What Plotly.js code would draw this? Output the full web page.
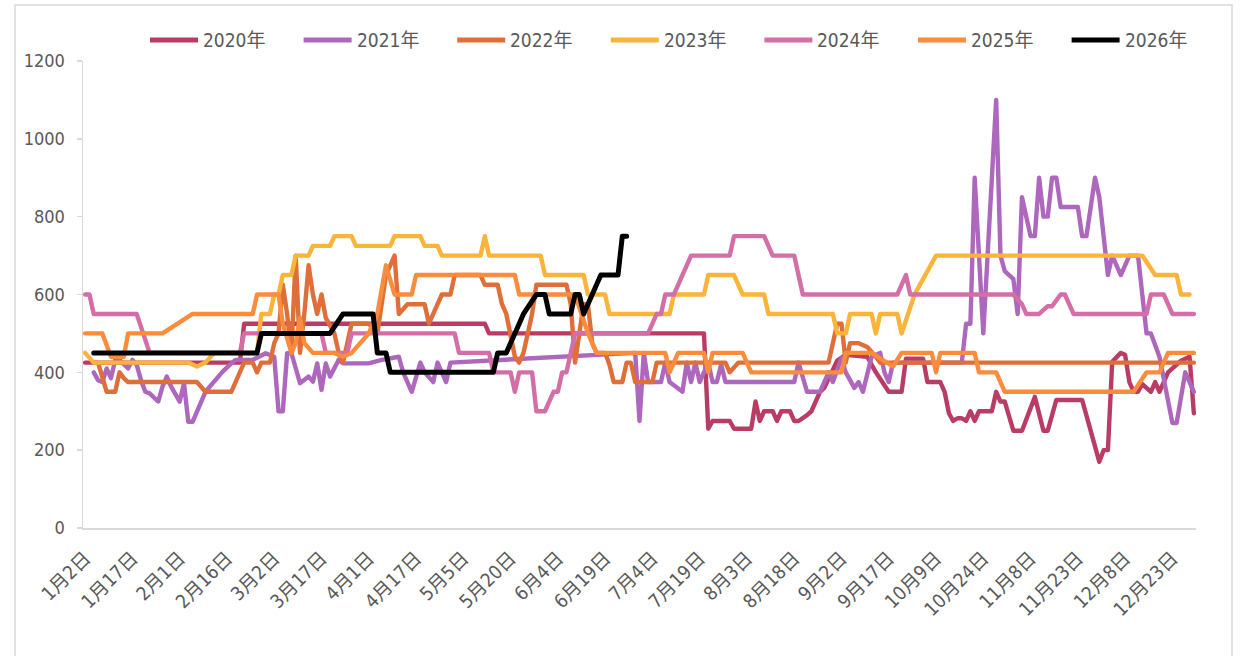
<!DOCTYPE html>
<html>
<head>
<meta charset="utf-8">
<script src="https://cdn.plot.ly/plotly-3.0.1.min.js"></script>
<style>
html,body{margin:0;padding:0;background:#fff;}
#chart{width:1248px;height:656px;}
.js-line{stroke-linejoin:round;stroke-linecap:round;}
</style>
</head>
<body>
<div id="chart"></div>
<script>
// Category axis: trading-day index 0..258, labelled every 11 days
const dayCount = 259;
const tickLabels = ["1月2日","1月17日","2月1日","2月16日","3月2日","3月17日","4月1日","4月17日","5月5日","5月20日","6月4日","6月19日","7月4日","7月19日","8月3日","8月18日","9月2日","9月17日","10月9日","10月24日","11月8日","11月23日","12月8日","12月23日"];
const tickStep = 11;

const seriesNames = ["2020年","2021年","2022年","2023年","2024年","2025年","2026年"];

const d2020 = [0,36,37,93,94,144,145,146,150,151,155,156,157,158,160,161,162,164,165,166,168,169,171,172,175,177,182,184,187,190,191,195,196,199,200,201,202,203,204,205,206,207,208,211,212,213,214,216,218,221,223,224,226,232,236,237,238,239,241,242,243,244,245,246,248,249,250,252,255,257,258];
const v2020 = [425,425,525,525,500,500,255,275,275,255,255,325,275,300,300,275,300,300,275,275,290,300,350,360,430,445,440,400,350,350,435,435,375,375,350,295,275,282,282,275,300,275,300,300,350,325,325,250,250,337,250,250,329,329,170,200,200,427,450,445,375,350,350,370,350,375,350,400,430,440,295];

const d2021 = [2,3,4,5,6,7,8,10,11,12,13,14,15,17,18,19,20,22,23,24,25,27,28,30,32,34,35,39,41,42,44,45,46,47,48,49,50,52,53,54,55,56,57,59,60,66,69,73,74,76,78,79,81,82,84,85,128,129,130,131,134,135,136,139,140,141,142,143,145,146,147,148,149,165,166,168,171,173,174,176,177,179,180,181,182,183,185,186,187,188,204,205,206,207,209,212,213,214,215,216,217,218,220,221,222,223,224,225,226,227,231,232,233,235,236,238,239,241,243,245,247,248,250,253,254,256,258];
const v2021 = [400,380,375,410,385,432,432,410,432,419,380,350,346,325,363,389,363,325,372,273,273,329,350,376,402,423,432,432,445,449,440,300,300,449,449,414,372,389,376,423,355,423,389,432,423,423,432,440,400,350,425,400,375,425,375,425,450,275,450,375,375,425,375,350,425,375,425,375,425,375,375,420,375,375,425,350,350,400,375,436,400,360,375,350,400,440,450,400,375,425,425,525,525,900,500,1100,700,660,650,640,550,850,750,750,900,800,800,900,900,825,825,750,750,900,850,650,700,650,700,700,500,500,440,270,270,400,350];

const d2022 = [2,3,5,7,8,9,10,26,28,34,37,39,40,41,43,44,45,46,47,48,49,50,51,52,53,54,55,56,58,59,60,61,62,66,68,70,72,73,75,79,80,81,83,85,86,92,93,96,97,98,99,100,101,102,103,104,105,112,113,114,115,116,117,118,119,121,122,123,125,126,127,128,132,133,149,150,152,173,175,176,177,178,180,182,184,185,258];
const v2022 = [425,425,350,350,400,385,375,375,350,350,425,425,400,425,425,475,500,625,550,450,700,450,550,675,600,550,600,540,500,450,425,475,525,525,500,650,700,550,575,575,525,550,600,600,650,650,625,625,575,550,500,440,425,450,500,550,625,625,575,425,500,575,575,475,450,450,420,375,375,425,425,375,375,425,425,400,425,425,525,525,425,475,475,465,440,425,425];

const d2023 = [0,2,24,26,28,30,40,41,43,44,45,46,48,49,52,53,57,58,62,63,71,72,78,79,82,83,92,93,94,106,107,116,117,121,122,136,137,144,145,151,153,158,159,174,175,177,178,183,184,185,189,190,193,198,246,249,254,255,257];
const v2023 = [450,425,425,415,425,450,450,550,550,600,600,650,650,700,700,725,725,750,750,725,725,750,750,725,725,700,700,750,700,700,650,650,600,600,550,550,600,600,650,650,600,600,550,550,500,500,550,550,500,550,550,500,600,700,700,650,650,600,600];

const d2024 = [0,1,2,12,15,36,37,55,56,61,62,86,87,94,95,99,100,101,104,105,107,109,110,111,112,114,131,133,134,135,137,139,141,150,151,158,160,165,167,189,191,192,216,218,219,222,224,225,227,228,230,247,248,251,253,258];
const v2024 = [600,600,550,550,450,450,500,500,450,450,500,500,450,450,400,400,350,400,400,300,300,350,350,400,400,500,500,550,550,600,600,650,700,700,750,750,700,700,600,600,650,600,600,575,550,550,570,570,600,600,550,550,600,600,550,550];

const d2025 = [0,4,6,9,10,18,25,39,40,45,46,48,49,50,51,53,58,60,62,64,66,68,70,72,76,77,100,101,114,117,119,135,136,138,144,145,146,153,155,176,177,183,188,190,197,198,199,207,208,212,214,244,247,250,252,258];
const v2025 = [500,500,440,440,500,500,550,550,600,600,525,450,475,540,475,450,450,440,450,475,500,550,675,600,600,650,650,600,600,500,450,450,400,450,450,400,450,450,400,400,450,450,415,450,450,400,450,450,400,400,350,350,400,400,450,450];

const d2026 = [2,40,41,57,60,67,68,70,71,95,96,98,100,102,105,107,108,113,114,115,116,118,120,124,125,126];
const v2026 = [450,450,500,500,550,550,450,450,400,400,450,450,500,550,600,600,550,550,600,600,550,600,650,650,750,750];

const seriesDays = [d2020,d2021,d2022,d2023,d2024,d2025,d2026];
const seriesVals = [v2020,v2021,v2022,v2023,v2024,v2025,v2026];
const colors = ["#B83C64","#AD67BD","#DF6E38","#FAB439","#D36FA6","#F98C3D","#000000"];
const widths = [4.4,4.4,4.4,4.4,4.4,4.4,5];

const FONT = '"Liberation Sans Narrow","DejaVu Sans Condensed","Noto Sans CJK SC",sans-serif';
const TXT = '#595959';

const traces = seriesNames.map((name,k)=>({
  type:'scatter', mode:'lines', name:name,
  x:seriesDays[k], y:seriesVals[k],
  line:{color:colors[k], width:widths[k]},
  showlegend:false, hoverinfo:'x+y+name'
}));

// plot area geometry (px) used for the hand-made legend and frame
const W=1248, H=656, L=83, R=52, T=61, B=128;
const pw = W-L-R, ph = H-T-B;
const px2x = p => (p-L)/pw;
const py2y = p => (H-B-p)/ph;

const shapes = [];
const annotations = [];
// outer frame
shapes.push({type:'rect', xref:'paper', yref:'paper',
  x0:px2x(15), x1:px2x(1232), y0:py2y(662), y1:py2y(5),
  line:{color:'#d9d9d9', width:1.5}, fillcolor:'rgba(0,0,0,0)', layer:'below'});
// legend
seriesNames.forEach((name,k)=>{
  const s = 150 + k*153.6;
  shapes.push({type:'line', xref:'paper', yref:'paper',
    x0:px2x(s), x1:px2x(s+48), y0:py2y(40), y1:py2y(40),
    line:{color:colors[k], width:5}});
  annotations.push({xref:'paper', yref:'paper', x:px2x(s+51), y:py2y(40),
    xanchor:'left', yanchor:'middle', showarrow:false, text:name,
    font:{family:FONT, size:19, color:TXT}});
});

const tickVals = tickLabels.map((_,i)=>i*tickStep);

const layout = {
  width:W, height:H,
  margin:{l:L, r:R, t:T, b:B, pad:0},
  paper_bgcolor:'#ffffff', plot_bgcolor:'#ffffff',
  showlegend:false,
  xaxis:{
    range:[-0.5, dayCount-0.5], showgrid:false, zeroline:false,
    showline:true, linecolor:'#d9d9d9', linewidth:1.5,
    tickmode:'array', tickvals:tickVals, ticktext:tickLabels,
    tickangle:-45, ticks:'', ticklabelstandoff:10,
    tickfont:{family:FONT, size:19, color:TXT}
  },
  yaxis:{
    range:[0,1200], dtick:200, tick0:0, showgrid:false, zeroline:false,
    showline:true, linecolor:'#d9d9d9', linewidth:1.5,
    ticks:'outside', ticklen:5, tickcolor:'#d9d9d9', tickwidth:1.5,
    ticklabelstandoff:8,
    tickfont:{family:FONT, size:18, color:TXT}
  },
  shapes:shapes, annotations:annotations
};

Plotly.newPlot('chart', traces, layout, {staticPlot:true, displayModeBar:false});
</script>
</body>
</html>
